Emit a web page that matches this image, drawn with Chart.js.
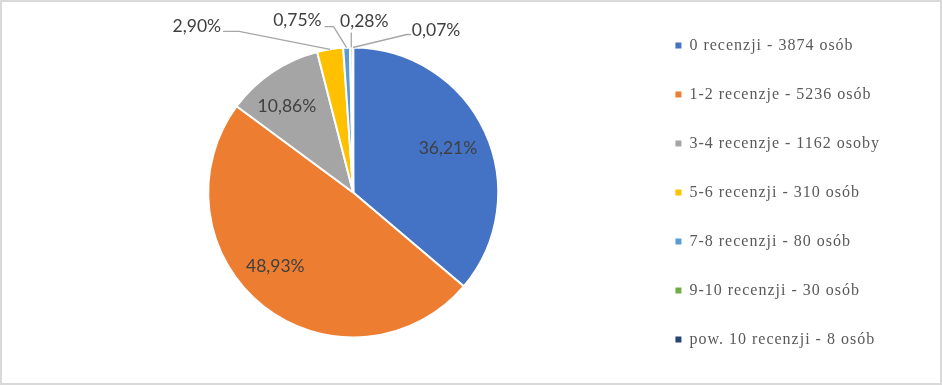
<!DOCTYPE html>
<html lang="pl">
<head>
<meta charset="utf-8">
<script src="https://cdn.jsdelivr.net/npm/chart.js@4.4.1/dist/chart.umd.min.js"></script>
<style>
  html, body { margin: 0; padding: 0; background: #fff; }
  #frame { width: 938px; height: 381px; border: 2px solid #d9d9d9; }
  canvas { display: block; }
</style>
</head>
<body>
<div id="frame"><canvas id="chart"></canvas></div>
<script>
// Liczba recenzji na osobę
const categories = [
    '0 recenzji - 3874 osób',
    '1-2 recenzje - 5236 osób',
    '3-4 recenzje - 1162 osoby',
    '5-6 recenzji - 310 osób',
    '7-8 recenzji - 80 osób',
    '9-10 recenzji - 30 osób',
    'pow. 10 recenzji - 8 osób'
];
const counts = [3874, 5236, 1162, 310, 80, 30, 8];
const colors = ['#4472C4', '#ED7D31', '#A5A5A5', '#FFC000', '#5B9BD5', '#70AD47', '#264478'];

const total = counts.reduce((s, v) => s + v, 0);
const percentLabels = counts.map(v => (v / total * 100).toFixed(2).replace('.', ',') + '%');

// label placement (inside labels nudged a little, small slices get leader lines)
const insideNudge = [[0, 0], [-13, -8], [-8, 0]];
const outsideLabels = {
    3: { text: [-109, -23], align: 'right', elbow: [-91, -18], attach: [-107, -18] },
    4: { text: [-25, -27], align: 'right', elbow: [-13, -21], attach: [-22, -21] },
    5: { text: [13, -26], align: 'center', elbow: [0, -15], attach: [0, -15] },
    6: { text: [59, -17], align: 'left', elbow: [54, -13], attach: [58, -13] }
};

const legendSpacing = {
    id: 'legendSpacing',
    beforeLayout(chart) { chart.ctx.letterSpacing = '1px'; },
    beforeDraw(chart) { chart.ctx.letterSpacing = '1px'; }
};

const sliceLabels = {
    id: 'sliceLabels',
    afterDatasetsDraw(chart) {
        const ctx = chart.ctx;
        const arcs = chart.getDatasetMeta(0).data;
        ctx.save();
        ctx.letterSpacing = '0px';
        ctx.font = '17.5px Lato, "Noto Sans", sans-serif';
        ctx.fillStyle = '#404040';
        ctx.textBaseline = 'middle';
        arcs.forEach((arc, i) => {
            const p = arc.getProps(['x', 'y', 'startAngle', 'endAngle', 'outerRadius'], true);
            const mid = (p.startAngle + p.endAngle) / 2;
            const text = percentLabels[i];
            const out = outsideLabels[i];
            if (!out) {
                const d = p.outerRadius * 0.72;
                const n = insideNudge[i] || [0, 0];
                ctx.textAlign = 'center';
                ctx.fillText(text, p.x + Math.cos(mid) * d + n[0], p.y + Math.sin(mid) * d + n[1]);
                return;
            }
            const ex = p.x + Math.cos(mid) * p.outerRadius;
            const ey = p.y + Math.sin(mid) * p.outerRadius;
            ctx.strokeStyle = '#a6a6a6';
            ctx.lineWidth = 1.3;
            ctx.beginPath();
            ctx.moveTo(ex, ey);
            ctx.lineTo(ex + out.elbow[0], ey + out.elbow[1]);
            ctx.lineTo(ex + out.attach[0], ey + out.attach[1]);
            ctx.stroke();
            ctx.textAlign = out.align;
            ctx.fillText(text, ex + out.text[0], ey + out.text[1]);
        });
        ctx.restore();
    }
};

const defaultLabels = Chart.overrides.pie.plugins.legend.labels.generateLabels;

new Chart(document.getElementById('chart'), {
    type: 'pie',
    data: {
        labels: categories,
        datasets: [{
            data: counts,
            backgroundColor: colors,
            borderColor: '#ffffff',
            borderWidth: 2
        }]
    },
    options: {
        responsive: true,
        maintainAspectRatio: false,
        animation: false,
        radius: 145,
        layout: { padding: { left: 62, right: 50, top: 0, bottom: 0 } },
        plugins: {
            tooltip: { enabled: false },
            legend: {
                position: 'right',
                align: 'center',
                labels: {
                    boxWidth: 6,
                    boxHeight: 6,
                    padding: 33,
                    color: '#595959',
                    font: { family: "'Liberation Serif', 'Times New Roman', serif", size: 16 },
                    generateLabels(chart) {
                        return defaultLabels(chart).map(item => {
                            item.lineWidth = 0;
                            item.strokeStyle = item.fillStyle;
                            return item;
                        });
                    }
                }
            }
        }
    },
    plugins: [legendSpacing, sliceLabels]
});
</script>
</body>
</html>
